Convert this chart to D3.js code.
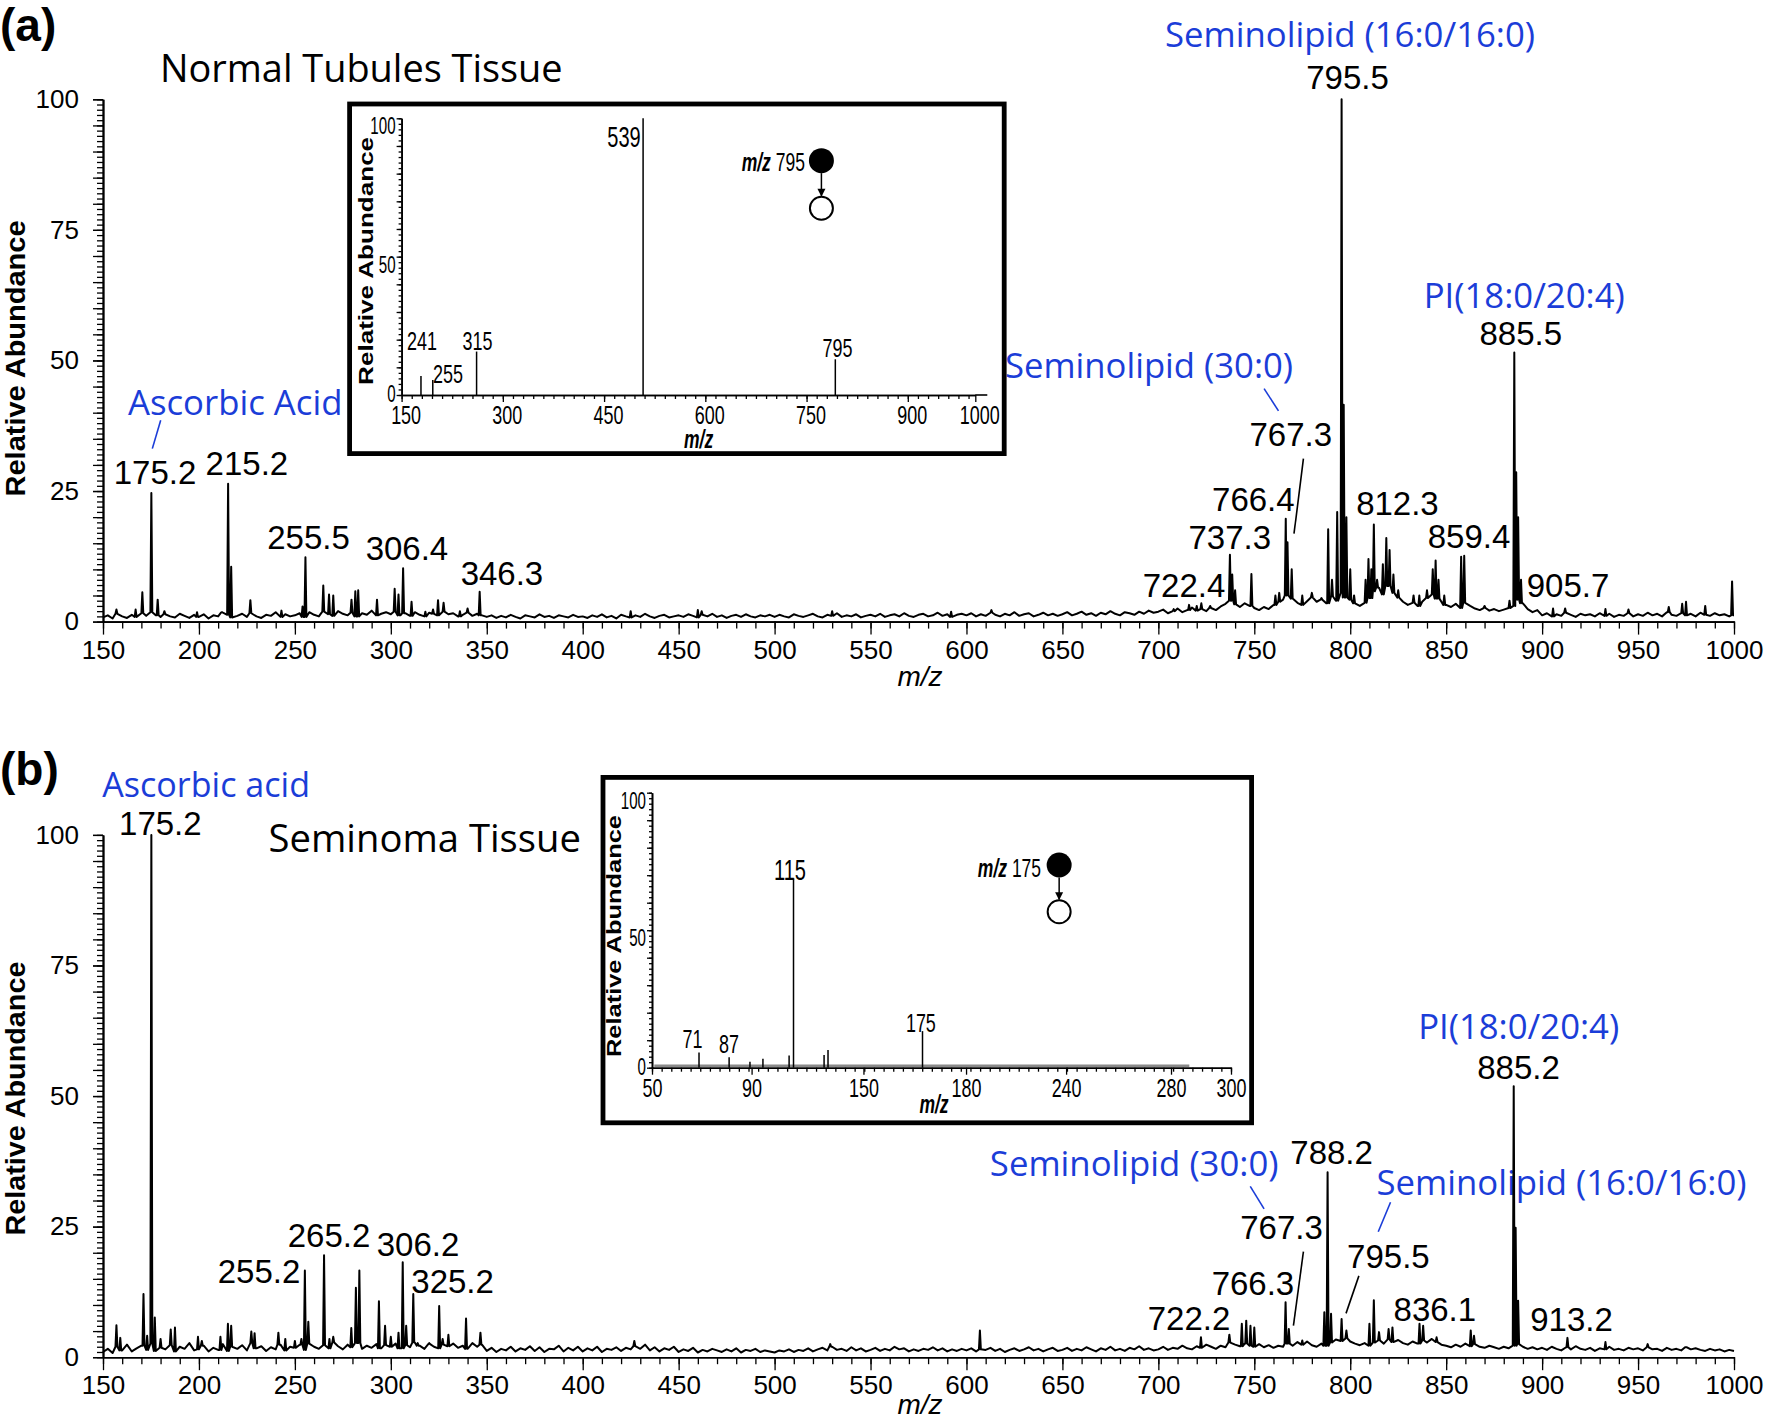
<!DOCTYPE html>
<html>
<head>
<meta charset="utf-8">
<script src="https://cdn.jsdelivr.net/npm/d3@7/dist/d3.min.js"></script>
<style>html,body{margin:0;padding:0;background:#fff}svg{display:block}</style>
</head>
<body>
<svg id="fig" width="1769" height="1421" xmlns="http://www.w3.org/2000/svg"></svg>
<script>
// ---------------- DATA ----------------
const xDomainMain = [150, 1000];
const xTicksMain = [150,200,250,300,350,400,450,500,550,600,650,700,750,800,850,900,950,1000];
const yTicksMain = [0,25,50,75,100];

const noiseStart = 150, noiseStep = 2.5;
const noiseA = [
0.8,1.2,0.6,1.5,1.0,0.7,1.3,0.9,1.6,1.1,1.8,1.2,0.9,1.4,1.0,0.8,1.5,1.1,0.7,1.3,
0.9,1.4,0.6,1.2,1.0,1.7,1.3,0.8,1.1,1.5,0.9,1.6,1.0,0.7,1.3,1.1,1.8,0.9,1.4,1.0,
1.2,1.6,0.9,1.8,1.3,1.0,1.9,1.4,1.1,2.0,1.5,1.2,1.7,1.0,1.6,1.3,2.1,1.2,1.5,1.8,
1.4,1.9,1.2,1.6,1.1,1.8,1.3,1.0,1.7,1.5,1.2,1.9,1.4,1.6,1.0,1.3,1.7,1.1,1.5,1.2,
0.9,1.2,0.7,1.1,0.8,1.3,0.9,0.6,1.2,1.0,0.8,1.4,0.9,1.1,0.7,1.2,1.0,0.8,1.3,0.9,
1.0,0.7,1.2,0.9,1.4,0.8,1.1,0.6,1.3,1.0,0.8,1.2,0.9,1.5,1.0,0.7,1.1,1.3,0.8,1.0,
1.2,0.9,1.4,1.1,0.8,1.3,1.0,1.5,0.9,1.2,0.7,1.1,1.3,0.9,1.4,1.0,0.8,1.2,1.0,1.3,
0.9,1.3,1.0,0.8,1.4,1.1,0.9,1.2,1.5,1.0,0.8,1.3,1.1,1.6,0.9,1.2,1.0,1.4,0.8,1.1,
1.3,1.0,1.5,0.9,1.2,1.4,1.0,1.6,1.1,0.9,1.3,1.5,1.0,1.2,1.7,1.1,1.4,0.9,1.3,1.5,
1.2,1.6,1.0,1.4,1.1,1.7,1.3,1.0,1.5,1.2,1.8,1.1,1.4,1.6,1.0,1.3,1.7,1.2,1.5,1.1,
1.4,1.8,1.2,1.5,1.9,1.3,1.6,1.1,1.7,1.4,2.0,1.5,1.2,1.8,1.6,1.3,1.9,1.5,2.1,1.7,
1.9,2.3,1.6,2.0,2.5,1.8,2.2,2.7,2.1,2.4,2.0,2.6,2.2,2.9,3.4,4.0,3.3,2.8,3.5,3.0,
2.6,2.2,2.8,2.4,3.2,3.8,4.2,5.0,4.4,3.6,3.2,3.9,4.6,3.8,4.2,3.5,4.8,4.0,5.5,4.6,
4.2,3.5,3.0,3.6,4.5,5.8,6.5,5.2,6.8,5.5,4.6,3.8,3.2,3.6,3.0,3.8,4.5,5.2,4.4,3.8,
3.2,2.8,3.4,2.6,3.6,3.0,2.5,2.2,2.6,2.1,2.4,2.0,2.3,2.6,3.0,4.2,3.5,2.4,1.8,2.2,
1.2,1.6,1.0,1.4,1.1,1.7,1.3,0.9,1.5,1.2,1.4,1.0,1.6,1.1,1.5,0.9,1.3,1.1,1.6,1.0,
1.4,1.1,1.7,1.2,1.5,1.0,1.8,1.3,1.1,1.6,1.2,1.5,1.0,1.7,1.3,1.1,1.6,1.2,1.4,1.0,
1.2];
const noiseB = [
1.0,1.6,0.8,2.0,1.3,2.4,1.1,1.7,2.2,1.4,2.6,1.2,1.8,1.5,2.3,1.1,2.0,1.6,2.7,1.3,
1.5,2.2,1.1,1.8,1.4,2.5,1.2,2.0,1.6,2.3,1.3,2.7,1.7,2.1,1.2,1.9,1.5,2.4,1.3,2.0,
1.8,2.4,1.4,2.6,2.0,1.6,2.3,1.7,2.8,2.1,1.5,2.4,1.9,2.7,1.6,2.2,1.8,2.5,1.7,2.3,
2.0,2.6,1.7,2.3,1.9,2.8,2.2,1.6,2.5,2.0,1.7,2.4,2.1,2.6,1.8,2.2,1.6,2.7,2.0,2.4,
1.2,1.8,1.0,1.6,1.3,2.0,1.1,1.7,1.4,2.1,1.2,1.9,1.0,1.6,1.5,2.2,1.1,1.8,1.3,2.0,
1.1,1.7,1.3,2.0,1.0,1.6,1.4,1.9,1.2,1.8,1.5,2.1,1.6,2.4,1.3,1.9,1.1,1.7,1.4,2.0,
1.0,1.5,1.2,1.8,0.9,1.4,1.1,1.6,1.3,1.0,1.5,1.1,1.7,0.9,1.4,1.2,1.6,1.0,1.3,1.1,
0.9,1.3,1.1,1.5,1.0,1.4,1.2,1.7,1.1,1.5,1.8,1.3,2.0,1.4,1.6,1.2,1.9,1.3,1.7,1.1,
1.4,1.8,1.2,1.6,1.3,2.0,1.5,1.7,1.1,1.5,1.2,1.6,1.4,1.9,1.3,1.7,1.1,1.5,1.2,1.6,
1.3,1.7,1.1,1.5,1.4,1.8,1.2,1.6,1.0,1.4,1.7,1.2,1.5,1.9,1.3,1.6,1.1,1.5,1.8,1.2,
1.4,1.8,1.2,1.6,1.3,1.9,1.5,1.1,1.7,1.4,2.0,1.3,1.6,1.2,1.8,1.5,2.1,1.4,1.7,1.3,
1.5,2.0,1.4,1.8,1.6,2.2,1.7,1.5,2.1,1.8,2.4,2.0,1.6,2.2,1.9,2.8,2.4,2.1,2.6,2.2,
2.0,2.5,1.9,2.3,1.8,2.2,2.0,2.6,2.2,2.9,2.4,3.0,2.3,2.0,2.6,2.2,2.8,3.4,3.1,3.6,
3.0,2.6,2.3,2.7,2.2,2.8,3.2,2.6,3.4,2.9,3.3,2.7,2.4,3.0,2.6,3.2,2.8,3.5,2.9,2.4,
2.2,1.9,2.4,2.0,2.6,2.1,2.5,2.0,1.8,2.2,1.9,1.6,2.0,1.7,2.2,2.5,2.0,1.6,1.9,1.5,
1.8,1.4,2.0,1.6,1.3,1.9,1.5,2.1,1.6,1.4,1.8,1.2,1.7,1.5,2.0,1.4,1.6,1.3,1.8,1.5,
1.7,1.3,1.9,1.5,1.6,1.2,1.8,1.4,1.6,1.3,1.9,1.5,1.7,1.4,1.2,1.6,1.3,1.5,1.1,1.4,
1.2];

// peaks [m/z, relative abundance %]
const peaksA = [
[157,2.3],[167,2.3],[170.5,5.6],[175.2,24.6],[178.5,4.2],[182,2.0],[199,1.8],[212,1.8],
[215.2,26.4],[216.8,10.5],[226.8,4.1],[243,2.1],[254,2.9],[255.5,12.3],[264.8,6.9],[267.8,5.2],
[270,5.0],[279.5,4.2],[281.5,5.8],[283,6.0],[292.8,4.2],[302,6.3],[304,5.2],[306.4,10.2],
[310.8,3.8],[318,1.9],[322,2.3],[324.6,4.1],[327.5,3.6],[336,2.0],[340,2.5],[346.3,5.7],
[425,2.0],[460,2.2],[462,2.0],[530,2.0],[592,1.9],[613,2.2],
[708,2.4],[716,3.2],[720,3.0],[722.4,3.5],[727,3.0],[737.3,12.8],[738.5,9],[740,6],[748.5,9.1],
[761,5],[763,5.5],[766.4,19.7],[767.3,15.2],[769.5,10],[775,5],[780,5.5],[785,4.5],[788.5,17.7],
[790.5,8],[793.2,21],[795.5,100],[796.6,41.5],[798,20],[800,10],[802,5],[808,8],[809.5,12],
[811,10],[812.3,18.6],[814,8],[817,11],[818.8,16],[820.5,13.7],[822.5,9],[825,6],[833,5],
[836,5],[840,6],[843,10],[844.5,11.7],[846,8],[849,5],[857.8,12.4],[859.4,12.6],[870,3],
[883,4],[885.5,51.5],[886.5,28.6],[887.5,20],[889,8],[905.7,2.5],[912,2.5],[933,2.4],
[945,2.3],[966,2.8],[973,3.4],[975,3.8],[985,3.0],[999,7.7]];
const peaksB = [
[157,6.1],[159,3.7],[171.1,12.1],[173,4.1],[175.2,100],[177,7.6],[180,3.5],[185.3,5.3],
[187.5,5.7],[199.5,3.9],[201.5,3.1],[211.2,3.9],[215.1,6.4],[216.8,6.0],[227.3,4.9],[229,4.6],
[241.4,4.7],[245,3.5],[250,3.1],[253.4,3.5],[255.2,16.6],[257,6.8],[265.2,19.5],[268,3.5],
[270,3.9],[279.4,5.6],[281.8,13.3],[283.6,16.6],[293.8,10.7],[297,6],[300,3.9],[304,4.7],
[306.2,18.2],[308,6],[311.7,12.1],[314,2.7],[320,2.7],[325.2,9.8],[327,3.5],[330,4.3],
[339.2,7.4],[346.7,4.7],[426.9,3.1],[529,2.5],[607,5.1],
[722.2,3.8],[737,4.3],[743.5,6.4],[745.8,7],[748,6],[750,5.7],[766.3,10.5],[768,5.4],[775,3.2],
[786.5,8.6],[788.2,35.4],[790,8.3],[795.5,7.3],[798,5.1],[810,6.4],[812.3,10.9],[815,4.8],
[820,5.4],[822,5.7],[836.1,6.4],[838,6],[845,3.8],[862.8,5.1],[864.5,4.1],[885.2,51.9],
[886.2,24.8],[887.5,10.8],[913.2,3.7],[933,2.9],[955,2.5],[975,1.9]];

// peak labels: [text, m/z anchor, abundance anchor]
const peakTextA = [
["175.2",177.1,26.3],["215.2",225.0,28.1],["255.5",257.1,13.96],["306.4",308.4,11.87],["346.3",357.9,7.0],
["795.5",798.6,101.9],["885.5",888.9,53.0],["767.3",769.0,33.58],["766.4",749.5,21.2],["737.3",737.2,13.84],
["722.4",713.4,4.71],["812.3",824.6,20.5],["859.4",861.9,14.1],["905.7",913.5,4.71]];
const peakTextB = [
["175.2",179.9,100.0],["255.2",231.3,14.13],["265.2",267.8,21.08],["306.2",314.2,19.45],["325.2",332.2,12.25],
["885.2",887.7,53.34],["788.2",790.3,36.97],["767.3",764.2,22.55],["795.5",819.9,17.15],["766.3",749.3,11.87],
["722.2",716.0,5.21],["836.1",844.1,6.99],["913.2",915.3,5.07]];

// compound names: [text, m/z of left edge, abundance of baseline]
const compoundTextA = [["Ascorbic Acid",163.0,39.5],["Seminolipid (16:0/16:0)",703.5,110.1],["PI(18:0/20:4)",838.3,60.0],["Seminolipid (30:0)",620.1,46.6]];
const compoundTextB = [["Ascorbic acid",149.6,107.3],["PI(18:0/20:4)",835.4,60.85],["Seminolipid (30:0)",612.2,34.73],["Seminolipid (16:0/16:0)",813.7,31.11]];

// leader lines [m/z1, ab1, m/z2, ab2]
const leadersBlueA = [[180.07,38.54,175.7,33.12],[755.1,44.61,762.6,40.34]];
const leadersBlackA = [[775.6,31.19,770.7,16.83]];
const leadersBlueB = [[747.9,32.7,755.1,28.4],[821.0,29.66,814.6,24.01]];
const leadersBlackB = [[775.6,20.2,770.4,6.03],[804.5,15.57,797.8,8.39]];

// inset (a): MS/MS of m/z 795
const insetATicks = [150,300,450,600,750,900,1000];
const insetASticks = [[178.7,6.9],[196.2,5.4],[261.1,15.7],[507.8,100],[792.6,12.9]];
const insetAText = [["241",180.2,16.26],["255",218.7,4.45],["315",262.5,16.26],["539",479.5,89.5],["795",795.7,13.84]];
const insetAPrecursor = {label:"795", textEnd:[747.6,80.8], filled:[772,84.7], open:[772,67.5]};

// inset (b): MS/MS of m/z 175 (axis labels as printed)
const insetBTickLabels = ["50","90","150","180","240","280","300"];
const insetBTickPos = [50,93.0,141.3,185.6,228.8,274.1,300];
const insetBSticks = [[70.3,5.5],[83.3,3.8],[92.3,2.2],[97.9,3.3],[109.2,4.4],[111.1,68.8],[124.3,4.6],[126.0,6.4],[166.8,13.3]];
const insetBText = [["71",67.5,7.16],["87",83.2,5.24],["115",109.6,68.25],["175",166.1,13.1]];
const insetBBaseline = [51, 282];
const insetBPrecursor = {label:"175", textEnd:[218,69.5], filled:[225.8,73.7], open:[225.8,56.7]};

// ---------------- LAYOUT / STYLE ----------------
const NUM = "'Liberation Sans', Arial, Helvetica, sans-serif";
const HUM = "'Open Sans', 'Noto Sans', sans-serif";
const BLUE = "#1b3dd8";
const L = {
  x0: 103, x1: 1734,
  a: {y0: 621.6, y100: 99.3},
  b: {y0: 1357.2, y100: 834.9},
  widthsA: [214.5, 370, 201, 288],
  widthsB: [207.8, 201, 288.7, 370]
};

const svg = d3.select('#fig');

function squeeze(sel, k){
  sel.each(function(){
    const n = this.getComputedTextLength();
    if (n > 0){ this.setAttribute('textLength', (n*k).toFixed(2)); this.setAttribute('lengthAdjust','spacingAndGlyphs'); }
  });
  return sel;
}
function styleAxis(sel, w){
  sel.select('.domain').attr('stroke','#000').attr('stroke-width', w || 1.6);
  sel.selectAll('.tick line').attr('stroke','#000').attr('stroke-width', 1.3);
}
function spectrumPoints(noise, peaks){
  const pts = [];
  noise.forEach((v,i)=>{
    const m = noiseStart + i*noiseStep;
    if (!peaks.some(p=>Math.abs(p[0]-m) < 0.7)) pts.push([m,v]);
  });
  peaks.forEach(([m,h])=>{
    const idx = Math.min(noise.length-1, Math.max(0, Math.round((m-noiseStart)/noiseStep)));
    const f = noise[idx];
    pts.push([m-0.5,f],[m,h],[m+0.5,f]);
  });
  return pts.sort((a,b)=>a[0]-b[0]);
}

function drawMain(cfg){
  const g = svg.append('g');
  const x = d3.scaleLinear().domain(xDomainMain).range([L.x0, L.x1]);
  const y = d3.scaleLinear().domain([0,100]).range([cfg.y0, cfg.y100]);

  // x axis
  g.append('g').attr('transform',`translate(0,${cfg.y0})`)
    .call(d3.axisBottom(x).tickValues(d3.range(150,1001,10)).tickSize(7).tickSizeOuter(0).tickFormat(()=>''))
    .call(s=>styleAxis(s));
  const xa = g.append('g').attr('transform',`translate(0,${cfg.y0})`)
    .call(d3.axisBottom(x).tickValues(xTicksMain).tickSize(13).tickSizeOuter(0).tickPadding(5.5).tickFormat(d3.format('d')))
    .call(s=>styleAxis(s));
  xa.attr('font-size',26).attr('font-family',NUM);
  xa.selectAll('text').attr('fill','#000');

  // y axis
  g.append('g').attr('transform',`translate(${L.x0},0)`)
    .call(d3.axisLeft(y).tickValues(d3.range(0,100.001,1)).tickSize(6).tickSizeOuter(0).tickFormat(()=>''))
    .call(s=>styleAxis(s));
  g.append('g').attr('transform',`translate(${L.x0},0)`)
    .call(d3.axisLeft(y).tickValues(d3.range(0,101,5)).tickSize(10).tickSizeOuter(0).tickFormat(()=>''))
    .call(s=>styleAxis(s));
  const ya = g.append('g').attr('transform',`translate(${L.x0},0)`)
    .call(d3.axisLeft(y).tickValues(yTicksMain).tickSize(10).tickSizeOuter(0).tickPadding(14).tickFormat(d3.format('d')))
    .call(s=>styleAxis(s));
  ya.attr('font-size',26).attr('font-family',NUM);
  ya.selectAll('text').attr('fill','#000');

  // axis titles
  g.append('text').attr('transform',`translate(25,${(cfg.y0+cfg.y100)/2+ (cfg.ylabShift||0)}) rotate(-90)`)
    .attr('text-anchor','middle').attr('font-family',NUM).attr('font-weight','bold').attr('font-size',27)
    .attr('textLength',cfg.ylabLen).attr('lengthAdjust','spacingAndGlyphs').text('Relative Abundance');
  g.append('text').attr('x',920).attr('y',cfg.y0+cfg.xlabDy).attr('text-anchor','middle')
    .attr('font-family',NUM).attr('font-style','italic').attr('font-size',28).text('m/z');

  // compound names (blue)
  cfg.compounds.forEach((c,i)=>{
    g.append('text').attr('x',x(c[1])).attr('y',y(c[2])).attr('fill',BLUE)
      .attr('font-family',HUM).attr('font-size',34)
      .attr('textLength',cfg.widths[i]).attr('lengthAdjust','spacingAndGlyphs').text(c[0]);
  });
  // leaders
  cfg.leadersBlue.forEach(l=>{
    g.append('line').attr('x1',x(l[0])).attr('y1',y(l[1])).attr('x2',x(l[2])).attr('y2',y(l[3]))
      .attr('stroke',BLUE).attr('stroke-width',1.6);
  });
  cfg.leadersBlack.forEach(l=>{
    g.append('line').attr('x1',x(l[0])).attr('y1',y(l[1])).attr('x2',x(l[2])).attr('y2',y(l[3]))
      .attr('stroke','#000').attr('stroke-width',1.6);
  });
  // peak labels
  g.selectAll('text.pl').data(cfg.peakText).enter().append('text').attr('class','pl')
    .attr('x',d=>x(d[1])).attr('y',d=>y(d[2])).attr('text-anchor','middle')
    .attr('font-family',NUM).attr('font-size',33).attr('fill','#000').text(d=>d[0]);

  // spectrum
  g.append('path').datum(spectrumPoints(cfg.noise, cfg.peaks))
    .attr('d', d3.line().x(d=>x(d[0])).y(d=>y(d[1])))
    .attr('fill','none').attr('stroke','#000').attr('stroke-width',2.0).attr('stroke-linejoin','round');
  return g;
}

function drawInset(cfg){
  const g = svg.append('g');
  g.append('rect').attr('x',cfg.box[0]).attr('y',cfg.box[1]).attr('width',cfg.box[2]).attr('height',cfg.box[3])
    .attr('fill','#fff').attr('stroke','#000').attr('stroke-width',4.8);
  const x = d3.scaleLinear().domain(cfg.xDomain).range([cfg.x0, cfg.x1]);
  const y = d3.scaleLinear().domain([0,100]).range([cfg.y0, cfg.y100]);

  if (cfg.baseline){
    g.append('line').attr('x1',x(cfg.baseline[0])).attr('x2',x(cfg.baseline[1]))
      .attr('y1',y(0.7)).attr('y2',y(0.7)).attr('stroke','#8a8a8a').attr('stroke-width',2.4);
  }
  // x axis
  g.append('g').attr('transform',`translate(0,${cfg.y0})`)
    .call(d3.axisBottom(x).tickValues(cfg.xMinor).tickSize(4).tickSizeOuter(0).tickFormat(()=>''))
    .call(s=>styleAxis(s,1.6));
  const labelMap = new Map(cfg.tickPos.map((p,i)=>[p,cfg.tickLabels[i]]));
  const xa = g.append('g').attr('transform',`translate(0,${cfg.y0})`)
    .call(d3.axisBottom(x).tickValues(cfg.tickPos).tickSize(7).tickSizeOuter(0).tickPadding(4).tickFormat(d=>labelMap.get(d)))
    .call(s=>styleAxis(s,1.6));
  xa.attr('font-size',26).attr('font-family',NUM);
  xa.selectAll('text').attr('fill','#000').attr('dx',cfg.tickDx||0);
  squeeze(xa.selectAll('text'),0.69);
  if (cfg.axisExtend){
    g.append('line').attr('x1',x(cfg.xDomain[1])).attr('x2',x(cfg.xDomain[1])+cfg.axisExtend)
      .attr('y1',cfg.y0).attr('y2',cfg.y0).attr('stroke','#000').attr('stroke-width',1.6);
  }
  // y axis
  g.append('g').attr('transform',`translate(${cfg.x0},0)`)
    .call(d3.axisLeft(y).tickValues(d3.range(0,100.001,2)).tickSize(3).tickSizeOuter(0).tickFormat(()=>''))
    .call(s=>styleAxis(s,1.6));
  g.append('g').attr('transform',`translate(${cfg.x0},0)`)
    .call(d3.axisLeft(y).tickValues(d3.range(0,101,10)).tickSize(5).tickSizeOuter(0).tickFormat(()=>''))
    .call(s=>styleAxis(s,1.6));
  const yl = g.selectAll('text.yl').data([0,50,100]).enter().append('text').attr('class','yl')
    .attr('x',cfg.x0-6).attr('y',d=>y(d)+(d===0?7:16)).attr('text-anchor','end')
    .attr('font-family',NUM).attr('font-size',24).text(d=>d);
  squeeze(yl,0.63);

  // axis titles
  g.append('text').attr('transform',`translate(${cfg.ylab[0]},${cfg.ylab[1]}) rotate(-90)`)
    .attr('text-anchor','middle').attr('font-family',NUM).attr('font-weight','bold').attr('font-size',21)
    .attr('textLength',cfg.ylab[2]).attr('lengthAdjust','spacingAndGlyphs').text('Relative Abundance');
  const mz = g.append('text').attr('x',cfg.xlab[0]).attr('y',cfg.xlab[1]).attr('text-anchor','middle')
    .attr('font-family',NUM).attr('font-weight','bold').attr('font-style','italic').attr('font-size',25).text('m/z');
  squeeze(mz,0.7);

  // sticks
  g.selectAll('line.st').data(cfg.sticks).enter().append('line').attr('class','st')
    .attr('x1',d=>x(d[0])).attr('x2',d=>x(d[0])).attr('y1',y(0)).attr('y2',d=>y(d[1]))
    .attr('stroke','#000').attr('stroke-width',1.5);
  // stick labels
  const st = g.selectAll('text.sl').data(cfg.text).enter().append('text').attr('class','sl')
    .attr('x',d=>x(d[1])).attr('y',d=>y(d[2])).attr('text-anchor','middle')
    .attr('font-family',NUM).attr('font-size',d=>d[2]>50?29:26).text(d=>d[0]);
  squeeze(st,0.69);

  // precursor annotation: one text with two runs
  const p = cfg.precursor;
  const pt = g.append('text').attr('x',x(p.textEnd[0])).attr('y',y(p.textEnd[1])).attr('text-anchor','end')
    .attr('font-family',NUM).attr('font-size',25);
  pt.append('tspan').attr('font-weight','bold').attr('font-style','italic').text('m/z');
  pt.append('tspan').text('\u00a0' + p.label);
  squeeze(pt,0.7);
  const cx = x(p.filled[0]);
  g.append('circle').attr('cx',cx).attr('cy',y(p.filled[1])).attr('r',12.5).attr('fill','#000');
  const top = y(p.filled[1])+12.5, bot = y(p.open[1])-11.5;
  g.append('line').attr('x1',cx).attr('x2',cx).attr('y1',top).attr('y2',bot-1).attr('stroke','#000').attr('stroke-width',1.5);
  g.append('path').attr('d',`M${cx-4},${bot-8}L${cx+4},${bot-8}L${cx},${bot}Z`).attr('fill','#000');
  g.append('circle').attr('cx',x(p.open[0])).attr('cy',y(p.open[1])).attr('r',11.5)
    .attr('fill','#fff').attr('stroke','#000').attr('stroke-width',2);
}

// ---------------- DRAW ----------------
// panel letters and titles
svg.append('text').attr('x',0).attr('y',41).attr('font-family',NUM).attr('font-weight','bold').attr('font-size',46).text('(a)');
svg.append('text').attr('x',0).attr('y',785).attr('font-family',NUM).attr('font-weight','bold').attr('font-size',46).text('(b)');
svg.append('text').attr('x',160).attr('y',81.7).attr('font-family',HUM).attr('font-size',38)
  .attr('textLength',402.6).attr('lengthAdjust','spacingAndGlyphs').text('Normal Tubules Tissue');
svg.append('text').attr('x',268.6).attr('y',852).attr('font-family',HUM).attr('font-size',38)
  .attr('textLength',312.3).attr('lengthAdjust','spacingAndGlyphs').text('Seminoma Tissue');

drawMain({y0:L.a.y0, y100:L.a.y100, ylabLen:276, ylabShift:-2, xlabDy:64.5, noise:noiseA, peaks:peaksA, peakText:peakTextA,
  compounds:compoundTextA, widths:L.widthsA, leadersBlue:leadersBlueA, leadersBlack:leadersBlackA});
drawMain({y0:L.b.y0, y100:L.b.y100, ylabLen:274, ylabShift:2.5, xlabDy:57, noise:noiseB, peaks:peaksB, peakText:peakTextB,
  compounds:compoundTextB, widths:L.widthsB, leadersBlue:leadersBlueB, leadersBlack:leadersBlackB});

drawInset({box:[349.6,104,654.6,349.6], xDomain:[150,1000], x0:401.6, x1:975.3, y0:395, y100:118.3,
  xMinor:d3.range(150,1001,15), tickPos:insetATicks, tickLabels:insetATicks.map(String), tickDx:4, axisExtend:12,
  ylab:[373,260.9,248], xlab:[698.6,448], sticks:insetASticks, text:insetAText, precursor:insetAPrecursor});
drawInset({box:[603,777.4,648.6,345.4], xDomain:[50,300], x0:652, x1:1231, y0:1067.7, y100:792.7,
  xMinor:d3.range(50,300.01,25/6), tickPos:insetBTickPos, tickLabels:insetBTickLabels, tickDx:0, axisExtend:0,
  baseline:insetBBaseline,
  ylab:[621,936,242], xlab:[934,1113], sticks:insetBSticks, text:insetBText, precursor:insetBPrecursor});
</script>
</body>
</html>
